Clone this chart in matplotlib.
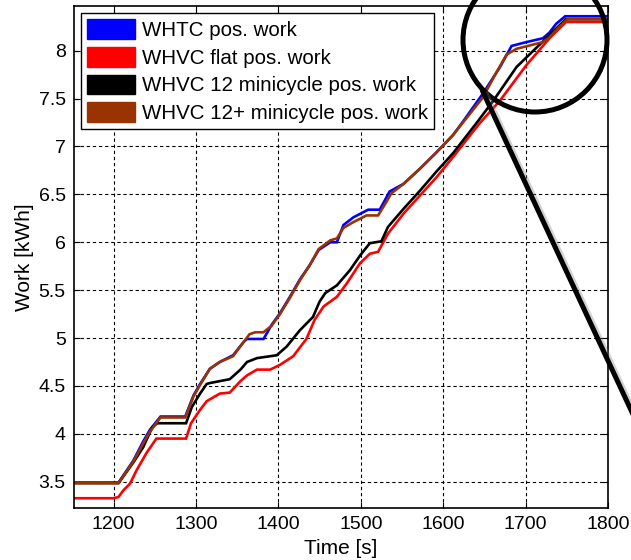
import matplotlib
matplotlib.use("Agg")
import matplotlib.pyplot as plt
from matplotlib.patches import Patch, Ellipse
from matplotlib.lines import Line2D
from matplotlib.ticker import FormatStrFormatter, MultipleLocator
import matplotlib.patheffects as pe

plt.rcParams['font.family'] = ['Liberation Sans', 'DejaVu Sans']

# Cumulative positive work [kWh] over time [s]
t_whtc = [1152, 1206, 1224, 1236, 1244, 1257, 1287, 1297, 1305, 1317, 1329, 1345, 1358,
          1362, 1382, 1392, 1402, 1414, 1426, 1438, 1449, 1463, 1471, 1479, 1491, 1509,
          1523, 1535, 1552, 1572, 1592, 1612, 1624, 1648, 1669, 1683, 1701, 1721, 1729,
          1737, 1748, 1800]
w_whtc = [3.49, 3.49, 3.72, 3.92, 4.04, 4.18, 4.18, 4.40, 4.52, 4.68, 4.75, 4.82, 4.96,
          4.99, 4.99, 5.14, 5.26, 5.43, 5.61, 5.76, 5.92, 6.00, 6.00, 6.18, 6.26, 6.34,
          6.34, 6.53, 6.61, 6.77, 6.94, 7.12, 7.26, 7.55, 7.83, 8.05, 8.09, 8.13, 8.19,
          8.28, 8.36, 8.36]

t_flat = [1152, 1200, 1206, 1212, 1220, 1228, 1240, 1252, 1288, 1294, 1305, 1313, 1329,
          1341, 1354, 1362, 1374, 1390, 1402, 1418, 1434, 1444, 1455, 1471, 1483, 1499,
          1511, 1521, 1533, 1552, 1572, 1592, 1612, 1644, 1669, 1701, 1729, 1749, 1800]
w_flat = [3.327, 3.327, 3.34, 3.41, 3.48, 3.62, 3.80, 3.95, 3.95, 4.11, 4.25, 4.34, 4.42,
          4.43, 4.55, 4.61, 4.67, 4.67, 4.72, 4.81, 4.99, 5.19, 5.33, 5.43, 5.57, 5.78,
          5.88, 5.90, 6.09, 6.30, 6.49, 6.68, 6.89, 7.24, 7.48, 7.85, 8.13, 8.30, 8.30]

t_mini12 = [1152, 1206, 1224, 1236, 1247, 1253, 1288, 1295, 1305, 1313, 1317, 1329, 1341,
            1354, 1362, 1374, 1390, 1398, 1410, 1426, 1442, 1450, 1457, 1471, 1487, 1499,
            1511, 1525, 1533, 1552, 1572, 1592, 1612, 1640, 1661, 1689, 1725, 1749, 1800]
w_mini12 = [3.485, 3.485, 3.70, 3.86, 4.07, 4.11, 4.11, 4.28, 4.42, 4.52, 4.53, 4.55, 4.57,
            4.67, 4.75, 4.79, 4.81, 4.82, 4.91, 5.08, 5.22, 5.38, 5.47, 5.55, 5.71, 5.86,
            5.99, 6.01, 6.16, 6.35, 6.54, 6.74, 6.93, 7.24, 7.48, 7.83, 8.13, 8.33, 8.33]

t_mini12p = [1152, 1206, 1224, 1236, 1244, 1257, 1287, 1297, 1305, 1317, 1329, 1345, 1358,
             1365, 1372, 1382, 1392, 1402, 1414, 1426, 1438, 1449, 1463, 1471, 1479, 1491,
             1507, 1521, 1531, 1537, 1552, 1572, 1592, 1612, 1624, 1648, 1665, 1677, 1689,
             1721, 1729, 1741, 1751, 1800]
w_mini12p = [3.485, 3.485, 3.71, 3.90, 4.02, 4.17, 4.17, 4.39, 4.51, 4.68, 4.75, 4.81, 4.96,
             5.04, 5.06, 5.06, 5.13, 5.25, 5.42, 5.60, 5.76, 5.93, 6.02, 6.04, 6.15, 6.21,
             6.28, 6.28, 6.42, 6.51, 6.61, 6.77, 6.94, 7.12, 7.25, 7.51, 7.78, 7.96, 8.02,
             8.09, 8.14, 8.25, 8.33, 8.33]

labels = ["WHTC pos. work", "WHVC flat pos. work",
          "WHVC 12 minicycle pos. work", "WHVC 12+ minicycle pos. work"]
colors = ["#0000ff", "#ff0000", "#000000", "#993300"]

x_ticks = [1200, 1300, 1400, 1500, 1600, 1700, 1800]

W, H = 631, 560
fig = plt.figure(figsize=(W / 100, H / 100), dpi=100)
ax = fig.add_axes([74 / W, 1 - 508 / H, (608 - 74) / W, (508 - 6) / H])

series = [(t_whtc, w_whtc), (t_flat, w_flat), (t_mini12, w_mini12), (t_mini12p, w_mini12p)]
for (t, w), c in zip(series, colors):
    ax.plot(t, w, color=c, lw=1.9, solid_joinstyle='miter')

ax.set_xlim(1152, 1800)
ax.set_ylim(3.225, 8.467)
ax.set_xticks(x_ticks)
ax.yaxis.set_major_locator(MultipleLocator(0.5))
ax.yaxis.set_major_formatter(FormatStrFormatter('%g'))

ax.grid(True, color='black', linestyle=(0, (3, 2.5)), linewidth=0.8)
ax.tick_params(direction='in', length=4, width=0.8, top=True, right=True,
               labelsize=14, pad=6, colors='black')
for s in ax.spines.values():
    s.set_linewidth(1.2)

ax.set_xlabel("Time [s]", fontsize=15, labelpad=4)
ax.set_ylabel("Work [kWh]", fontsize=15, labelpad=3)

handles = [Patch(facecolor=c, edgecolor=c) for c in colors]
leg = ax.legend(handles, labels, loc='upper left', bbox_to_anchor=(0.0, 1.0),
                borderaxespad=0.35, fontsize=14.8, handlelength=2.3, handleheight=1.1,
                handletextpad=0.35, labelspacing=0.33, borderpad=0.3,
                fancybox=False, framealpha=1, edgecolor='black')
leg.get_frame().set_linewidth(1.0)

# Zoom highlight: circle around the end of the cycle with a pointer line
circ = Ellipse((535 / W, 1 - 40 / H), 144 / W, 144 / H, transform=fig.transFigure,
               fill=False, edgecolor='black', lw=3.6, zorder=10, clip_on=False)
fig.add_artist(circ)
pointer = Line2D([483 / W, 650 / W], [1 - 92 / H, 1 - 451 / H], transform=fig.transFigure,
                 color='black', lw=3.6, zorder=10, clip_on=False,
                 path_effects=[pe.SimpleLineShadow(offset=(2.5, -1.5), shadow_color='gray',
                                                   alpha=0.35, rho=1.0),
                               pe.Normal()])
fig.add_artist(pointer)

fig.savefig("out.png", dpi=100)
